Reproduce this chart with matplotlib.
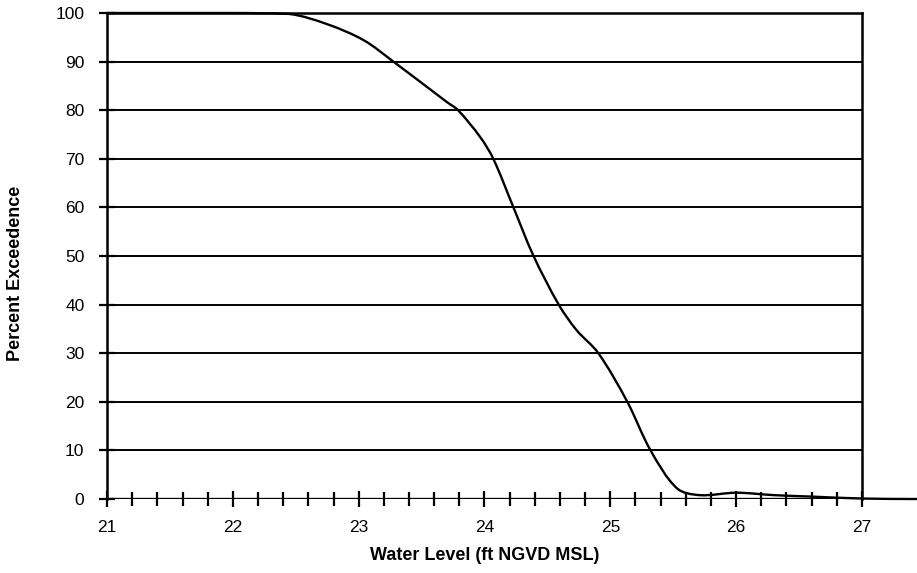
import matplotlib
matplotlib.use("Agg")
import matplotlib.pyplot as plt
import numpy as np
from matplotlib.path import Path
from matplotlib.patches import PathPatch
from matplotlib.ticker import MultipleLocator

plt.rcParams['font.family'] = ['Liberation Sans', 'DejaVu Sans']

# Data
water_level = [21.0, 22.0, 22.45, 22.75, 23.04, 23.276, 23.70, 23.79,
               23.965, 24.07, 24.23, 24.39, 24.59, 24.73,
               24.905, 25.135, 25.32, 25.53, 25.71,
               26.0, 26.3, 26.6, 27.0, 27.45]
pct_exceed = [100.0, 100.0, 99.8, 97.7, 94.4, 90.0, 81.7, 80.0,
              74.5, 70.0, 60.0, 50.0, 40.0, 34.8,
              30.0, 20.0, 10.0, 2.2, 0.8,
              1.3, 0.8, 0.5, 0.1, 0.0]
x_ticks = [21, 22, 23, 24, 25, 26, 27]
y_ticks = [0, 10, 20, 30, 40, 50, 60, 70, 80, 90, 100]

fig = plt.figure(figsize=(9.17, 5.73), dpi=100)
ax = fig.add_axes([0.1167, 0.1291, 0.8233, 0.8482])
ax.set_xlim(21, 27)
ax.set_ylim(0, 100)

# grid lines
for yv in y_ticks[1:]:
    ax.axhline(yv, color='black', lw=1.4, zorder=1)
ax.axhline(0, color='black', lw=2.4, zorder=3)

# smooth chord-length Catmull-Rom curve through the data points (as Bezier path)
x = np.array(water_level)
y = np.array(pct_exceed)
sx, sy = 125.8, 4.86  # approximate display scale, used only for smoothing weights
P = np.column_stack([x * sx, y * sy])
n = len(P)
d = np.linalg.norm(np.diff(P, axis=0), axis=1)
T = np.zeros_like(P)
for i in range(n):
    if i == 0:
        T[i] = (P[1] - P[0]) / d[0]
    elif i == n - 1:
        T[i] = (P[-1] - P[-2]) / d[-1]
    else:
        T[i] = (P[i + 1] - P[i - 1]) / (d[i - 1] + d[i])
verts = [(x[0], y[0])]
codes = [Path.MOVETO]
for i in range(n - 1):
    c1 = P[i] + T[i] * d[i] / 3.0
    c2 = P[i + 1] - T[i + 1] * d[i] / 3.0
    c1y = min(c1[1] / sy, 100.0)
    c2y = min(c2[1] / sy, 100.0)
    verts += [(c1[0] / sx, c1y), (c2[0] / sx, c2y), (x[i + 1], y[i + 1])]
    codes += [Path.CURVE4] * 3
patch = PathPatch(Path(verts, codes), facecolor='none', edgecolor='black',
                  lw=1.7, zorder=4, clip_on=False)
ax.add_patch(patch)

for s in ['left', 'right', 'top', 'bottom']:
    ax.spines[s].set_linewidth(1.8)
    ax.spines[s].set_color('black')
ax.spines['bottom'].set_visible(False)

ax.set_xticks(x_ticks)
ax.set_yticks(y_ticks)
ax.xaxis.set_minor_locator(MultipleLocator(0.2))
ax.tick_params(axis='x', which='major', direction='inout', length=11, width=1.6,
               labelsize=12.5, pad=9.6)
ax.tick_params(axis='x', which='minor', direction='inout', length=10, width=1.6)
ax.tick_params(axis='y', which='major', direction='inout', length=12, width=1.6,
               labelsize=12.5, pad=10.3)

ax.set_xlabel('Water Level (ft NGVD MSL)', fontsize=13, fontweight='bold', labelpad=8.4)
ax.set_ylabel('Percent Exceedence', fontsize=13, fontweight='bold')
ax.yaxis.set_label_coords(-0.110, 0.464)

fig.savefig('out.png', dpi=100)
